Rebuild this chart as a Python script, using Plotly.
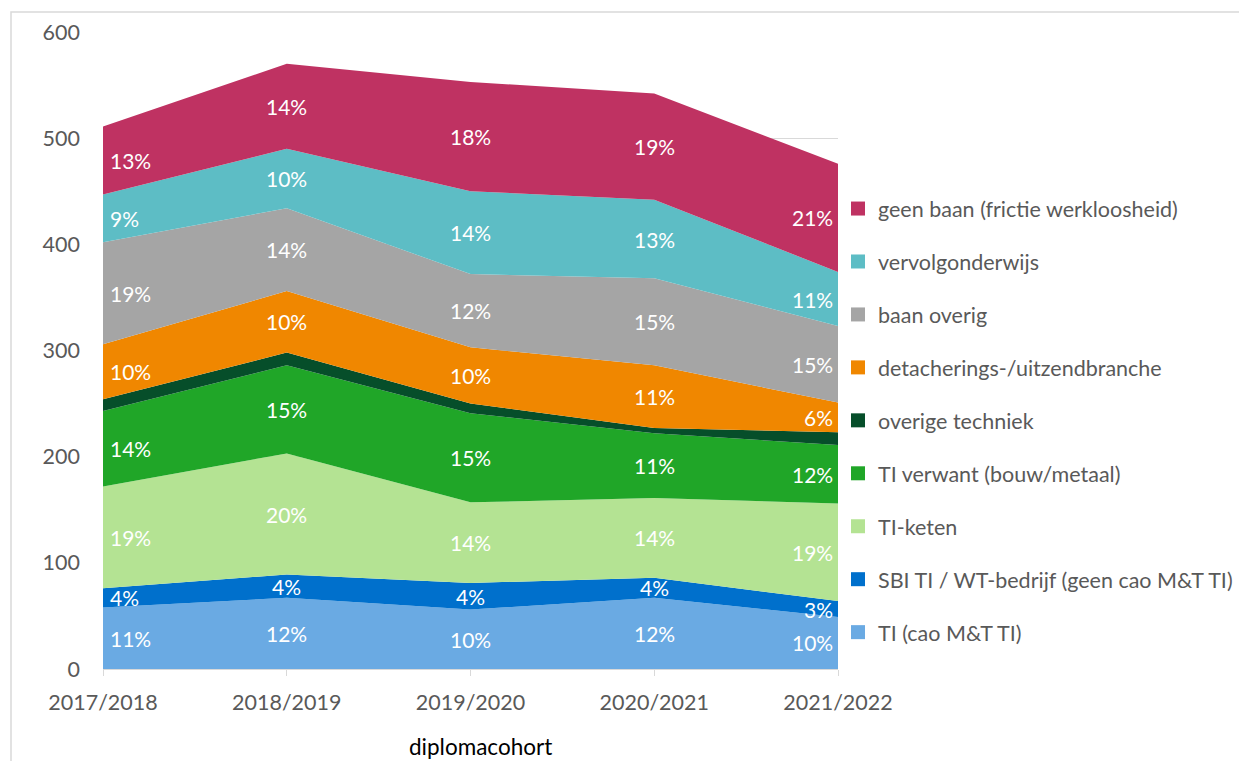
import plotly.graph_objects as go

# ---------------- data ----------------
categories = ["2017/2018", "2018/2019", "2019/2020", "2020/2021", "2021/2022"]

# series, bottom of the stack first
ti_cao = [58, 67, 56, 67, 49]
sbi_ti = [18, 22, 25, 19, 15]
ti_keten = [96, 114, 76, 75, 92]
ti_verwant = [71, 83, 84, 61, 55]
overige_techniek = [11, 12, 9, 5, 12]
detachering = [52, 58, 53, 59, 28]
baan_overig = [96, 78, 69, 82, 72]
vervolgonderwijs = [45, 56, 78, 74, 51]
geen_baan = [64, 80, 103, 100, 102]

# percentage labels shown inside the bands
ti_cao_lbl = ["11%", "12%", "10%", "12%", "10%"]
sbi_ti_lbl = ["4%", "4%", "4%", "4%", "3%"]
ti_keten_lbl = ["19%", "20%", "14%", "14%", "19%"]
ti_verwant_lbl = ["14%", "15%", "15%", "11%", "12%"]
overige_techniek_lbl = [None, None, None, None, None]
detachering_lbl = ["10%", "10%", "10%", "11%", "6%"]
baan_overig_lbl = ["19%", "14%", "12%", "15%", "15%"]
vervolgonderwijs_lbl = ["9%", "10%", "14%", "13%", "11%"]
geen_baan_lbl = ["13%", "14%", "18%", "19%", "21%"]

series = [
    ("TI (cao M&T TI)", ti_cao, ti_cao_lbl, "#6AAAE3"),
    ("SBI TI / WT-bedrijf (geen cao M&T TI)", sbi_ti, sbi_ti_lbl, "#0070CC"),
    ("TI-keten", ti_keten, ti_keten_lbl, "#B4E393"),
    ("TI verwant (bouw/metaal)", ti_verwant, ti_verwant_lbl, "#20A628"),
    ("overige techniek", overige_techniek, overige_techniek_lbl, "#064E2A"),
    ("detacherings-/uitzendbranche", detachering, detachering_lbl, "#F08700"),
    ("baan overig", baan_overig, baan_overig_lbl, "#A5A5A5"),
    ("vervolgonderwijs", vervolgonderwijs, vervolgonderwijs_lbl, "#5DBDC5"),
    ("geen baan (frictie werkloosheid)", geen_baan, geen_baan_lbl, "#BF3262"),
]

FONT = "Lato"
TICK_COLOR = "#595959"

# the page body has an 8px margin, so the figure is 8px smaller and
# everything is laid out 8px up/left of the reference's pixel positions
W, H = 1239, 753
PL, PR, PT, PB = 95, 830, 24, 661  # plot area in figure pixels
PW, PH = PR - PL, PB - PT

fig = go.Figure()

# stacked areas
for name, vals, _, col in series:
    fig.add_trace(go.Scatter(
        x=categories, y=vals, name=name, stackgroup="one",
        mode="lines", line=dict(width=0, color=col), fillcolor=col,
        showlegend=False, hoverinfo="x+y+name",
    ))

# legend entries (square swatches), top of stack first
for name, _, _, col in reversed(series):
    fig.add_trace(go.Scatter(
        x=[None], y=[None], name=name, mode="markers",
        marker=dict(symbol="square", size=14, color=col),
        legendgroup=name, showlegend=True,
    ))

# data labels in the middle of each band
annotations = []
base = [0] * len(categories)
n = len(categories)
for name, vals, lbls, col in series:
    for i in range(n):
        mid = base[i] + vals[i] / 2
        if lbls[i]:
            if i == 0:
                xa, xs = "left", 5
            elif i == n - 1:
                xa, xs = "right", -3
            else:
                xa, xs = "center", 0
            annotations.append(dict(
                x=categories[i], y=mid, xref="x", yref="y", text=lbls[i],
                showarrow=False, xanchor=xa, xshift=xs, yanchor="middle",
                font=dict(family=FONT, size=21, color="white"),
            ))
        base[i] += vals[i]

# x-axis title
annotations.append(dict(
    x=(473 - PL) / PW, y=(PB - 738) / PH, xref="paper", yref="paper",
    text="diplomacohort", showarrow=False, xanchor="center", yanchor="middle",
    font=dict(family=FONT, size=22.5, color="#000000"),
))

fig.update_layout(
    width=W, height=H,
    margin=dict(l=PL, r=W - PR, t=PT, b=H - PB, autoexpand=False),
    paper_bgcolor="white", plot_bgcolor="white",
    font=dict(family=FONT, size=21, color=TICK_COLOR),
    annotations=annotations,
    showlegend=True,
    legend=dict(
        x=1.0, xanchor="left", y=0.755, yanchor="top",
        traceorder="grouped", tracegroupgap=22,
        font=dict(family=FONT, size=21.5, color=TICK_COLOR),
        bgcolor="rgba(0,0,0,0)", itemclick=False, itemdoubleclick=False,
    ),
    shapes=[dict(
        type="rect", xref="paper", yref="paper",
        x0=(3 - PL) / PW, x1=(1260 - PL) / PW,
        y0=(PB - 800) / PH, y1=(PB - 4) / PH,
        line=dict(color="#D9D9D9", width=1.5), fillcolor="rgba(0,0,0,0)",
        layer="below",
    )],
)

fig.update_xaxes(
    type="category", range=[0, n - 1], showgrid=False,
    showline=True, linecolor="#D9D9D9", linewidth=1,
    ticks="outside", ticklen=6, tickcolor="#D9D9D9",
    tickfont=dict(family=FONT, size=21.5, color=TICK_COLOR),
    ticklabelstandoff=8, zeroline=False,
)
fig.update_yaxes(
    range=[0, 600], dtick=100, tick0=0, showgrid=True,
    gridcolor="#D9D9D9", gridwidth=1, showline=False, zeroline=False,
    ticks="", tickfont=dict(family=FONT, size=21.5, color=TICK_COLOR),
    ticklabelstandoff=22,
)

fig.write_html("out.html")
